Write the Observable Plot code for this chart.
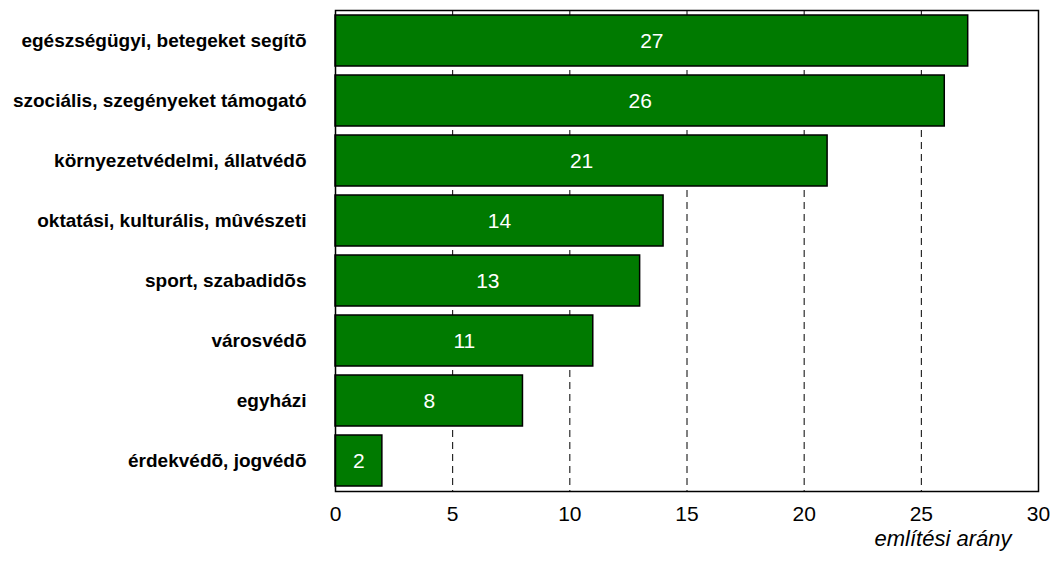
<!DOCTYPE html>
<html><head><meta charset="utf-8">
<script src="https://cdn.jsdelivr.net/npm/d3@7"></script>
<script src="https://cdn.jsdelivr.net/npm/@observablehq/plot@0.6"></script>
<style>body{margin:0;background:#fff}</style>
</head><body><div id="chart"></div>
<script>
const categories = [
  "egészségügyi, betegeket segítõ",
  "szociális, szegényeket támogató",
  "környezetvédelmi, állatvédõ",
  "oktatási, kulturális, mûvészeti",
  "sport, szabadidõs",
  "városvédõ",
  "egyházi",
  "érdekvédõ, jogvédõ"
];
const values = [27, 26, 21, 14, 13, 11, 8, 2];
const xTicks = [0, 5, 10, 15, 20, 25, 30];
const gridTicks = [5, 10, 15, 20, 25];
const xLabel = "említési arány";

const data = categories.map((c, i) => ({category: c, value: values[i]}));

const chart = Plot.plot({
  width: 1054, height: 563,
  marginLeft: 335, marginRight: 16, marginTop: 10, marginBottom: 72,
  style: {fontFamily: "'Liberation Sans', Arial, sans-serif", background: "#fff", color: "#000"},
  x: {domain: [0, 30]},
  y: {domain: categories, paddingInner: 0.15, paddingOuter: 0.075},
  marks: [
    Plot.ruleX(gridTicks, {stroke: "#000", strokeDasharray: "7,5", strokeWidth: 1}),
    Plot.barX(data, {x: "value", y: "category", fill: "#007A00", stroke: "#000", strokeWidth: 1.5}),
    Plot.text(data, {x: d => d.value / 2, y: "category", text: d => String(d.value), fill: "#fff", fontSize: 21}),
    Plot.frame({stroke: "#000", strokeWidth: 1.5}),
    Plot.axisX({ticks: xTicks, tickSize: 0, tickPadding: 15, fontSize: 21, label: null}),
    Plot.axisY({tickSize: 0, tickPadding: 29, fontSize: 19, fontWeight: "bold", label: null}),
    Plot.text([xLabel], {frameAnchor: "bottom-right", dx: -27, dy: 54, textAnchor: "end", fontStyle: "italic", fontSize: 22})
  ]
});
document.getElementById("chart").append(chart);
</script>
</body></html>
